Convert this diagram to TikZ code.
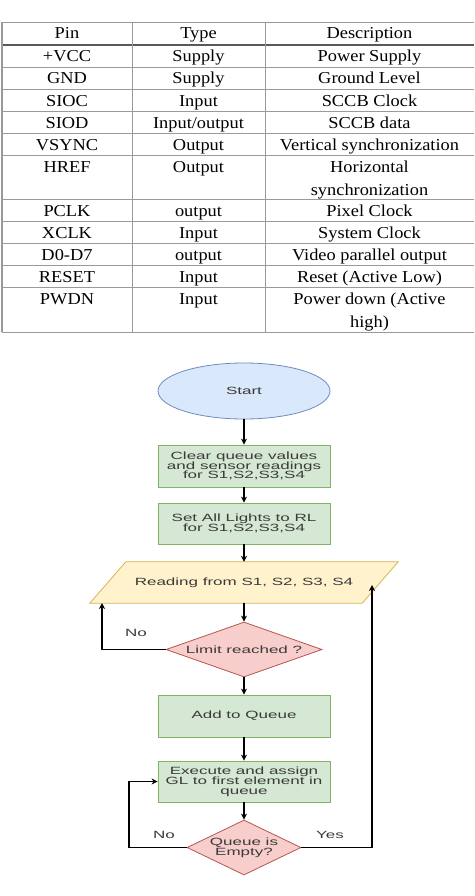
\documentclass[tikz,border=0pt]{standalone}
\usepackage{fontspec}
\usetikzlibrary{shapes.geometric,arrows.meta,backgrounds}
\newfontfamily\tabfont[FakeStretch=1.1]{Liberation Serif}
\newfontfamily\flowfont[FakeStretch=1.62]{Liberation Sans}
\definecolor{bfill}{HTML}{DAE8FC}\definecolor{bborder}{HTML}{6C8EBF}
\definecolor{gfill}{HTML}{D5E8D4}\definecolor{gborder}{HTML}{82B366}
\definecolor{yfill}{HTML}{FFF2CC}\definecolor{yborder}{HTML}{D6B656}
\definecolor{rfill}{HTML}{F8CECC}\definecolor{rborder}{HTML}{B85450}
\definecolor{flowgray}{HTML}{3A3A3A}
\definecolor{tgray}{HTML}{9A9A9A}
\begin{document}
\begin{tikzpicture}[x=1pt,y=-1pt,
  tline/.style={draw=tgray,line width=0.9pt},
  hline/.style={draw=black!65,line width=1.6pt},
  cell/.style={anchor=base,inner sep=0pt,font=\tabfont\fontsize{16.7}{22}\selectfont},
  flowtxt/.style={font=\flowfont\fontsize{10.5}{9.8}\selectfont,text=flowgray},
  gbox/.style={rectangle,draw=gborder,fill=gfill,line width=0.8pt,minimum width=172pt,inner sep=0pt,align=center,flowtxt},
  dec/.style={diamond,draw=rborder,fill=rfill,line width=0.8pt,inner sep=0pt},
  arr/.style={draw=black,line width=1.2pt,-{Stealth[length=6pt,width=6pt]}}]
\useasboundingbox (0,0) rectangle (474,896);
% ---- table ----
\foreach \yy in {22,67,89,111.5,133.5,155.5,199.5,221.5,243.5,265.5,287.5,332}
  \draw[tline] (2,\yy) -- (474,\yy);
\draw[hline] (2,45) -- (474,45);
\draw[tline] (132,22) -- (132,332);
\draw[tline] (265,22) -- (265,332);
\draw[draw=tgray,line width=2pt] (2,22) -- (2,332);
% header
\node[cell] (h1) at (67,39) {Pin};
\node[cell] (h2) at (198.5,39) {Type};
\node[cell] (h3) at (369.5,39) {Description};
% rows
\node[cell] (p1) at (67,62) {+VCC};
\node[cell] (t1) at (198.5,62) {Supply};
\node[cell] (d1t) at (369.5,62) {Power Supply};
\node[cell] (p2) at (67,84) {GND};
\node[cell] (t2) at (198.5,84) {Supply};
\node[cell] (d2t) at (369.5,84) {Ground Level};
\node[cell] (p3) at (67,106.5) {SIOC};
\node[cell] (t3) at (198.5,106.5) {Input};
\node[cell] (d3t) at (369.5,106.5) {SCCB Clock};
\node[cell] (p4) at (67,128.5) {SIOD};
\node[cell] (t4) at (198.5,128.5) {Input/output};
\node[cell] (d4t) at (369.5,128.5) {SCCB data};
\node[cell] (p5) at (67,150.5) {VSYNC};
\node[cell] (t5) at (198.5,150.5) {Output};
\node[cell] (d5t) at (369.5,150.5) {Vertical synchronization};
\node[cell] (p6) at (67,172.5) {HREF};
\node[cell] (t6) at (198.5,172.5) {Output};
\node[cell] (d6a) at (369.5,172.5) {Horizontal};
\node[cell] (d6b) at (369.5,195.5) {synchronization};
\node[cell] (p7) at (67,216.5) {PCLK};
\node[cell] (t7) at (198.5,216.5) {output};
\node[cell] (d7t) at (369.5,216.5) {Pixel Clock};
\node[cell] (p8) at (67,238.5) {XCLK};
\node[cell] (t8) at (198.5,238.5) {Input};
\node[cell] (d8t) at (369.5,238.5) {System Clock};
\node[cell] (p9) at (67,260.5) {D0-D7};
\node[cell] (t9) at (198.5,260.5) {output};
\node[cell] (d9t) at (369.5,260.5) {Video parallel output};
\node[cell] (p10) at (67,282.5) {RESET};
\node[cell] (t10) at (198.5,282.5) {Input};
\node[cell] (d10t) at (369.5,282.5) {Reset (Active Low)};
\node[cell] (p11) at (67,304.5) {PWDN};
\node[cell] (t11) at (198.5,304.5) {Input};
\node[cell] (d11a) at (369.5,304.5) {Power down (Active};
\node[cell] (d11b) at (369.5,327) {high)};
% ---- flowchart ----
\node[ellipse,draw=bborder,fill=bfill,line width=0.8pt,minimum width=172pt,minimum height=56pt,inner sep=0pt,flowtxt] (start) at (244,391) {Start};
\node[gbox,minimum height=42pt] (b1) at (244,466) {Clear queue values\\and sensor readings\\for S1,S2,S3,S4};
\node[gbox,minimum height=41pt] (b2) at (244,523.5) {Set All Lights to RL\\for S1,S2,S3,S4};
\node[minimum width=272pt,minimum height=41pt,inner sep=0pt,flowtxt] (read) at (244,582.5) {Reading from S1, S2, S3, S4};
\begin{scope}[on background layer]
\draw[draw=yborder,fill=yfill,line width=0.8pt] ([xshift=-18pt]read.south west) -- ([xshift=18pt]read.north west) -- ([xshift=18pt]read.north east) -- ([xshift=-18pt]read.south east) -- cycle;
\end{scope}
\node[dec,minimum width=156pt,minimum height=55pt,label={[flowtxt]center:Limit reached ?}] (lim) at (244,649.5) {};
\node[gbox,minimum height=42pt] (add) at (244,716) {Add to Queue};
\node[gbox,minimum height=41pt] (exec) at (244,781.5) {Execute and assign\\GL to first element in\\queue};
\node[dec,minimum width=114pt,minimum height=55pt,label={[flowtxt,align=center]center:Queue is\\Empty?}] (emp) at (244,847.5) {};
\coordinate (noTip) at (102,603);
\coordinate (c2) at (129,781.5);
\coordinate (yesTip) at (372,585);
\draw[arr] (start.south) -- (b1.north);
\draw[arr] (b1.south) -- (b2.north);
\draw[arr] (b2.south) -- (read.north);
\draw[arr] (read.south) -- (lim.north);
\draw[arr] (lim.south) -- (add.north);
\draw[arr] (add.south) -- (exec.north);
\draw[arr] (exec.south) -- (emp.north);
\draw[arr] (lim.west) -| (noTip);
\draw[arr] (emp.west) -| (c2) -- (exec.west);
\draw[arr] (emp.east) -| (yesTip);
\node[flowtxt] (no1) at (136,633) {No};
\node[flowtxt] (no2) at (164,835) {No};
\node[flowtxt] (yes) at (330,835) {Yes};
\end{tikzpicture}
\end{document}
